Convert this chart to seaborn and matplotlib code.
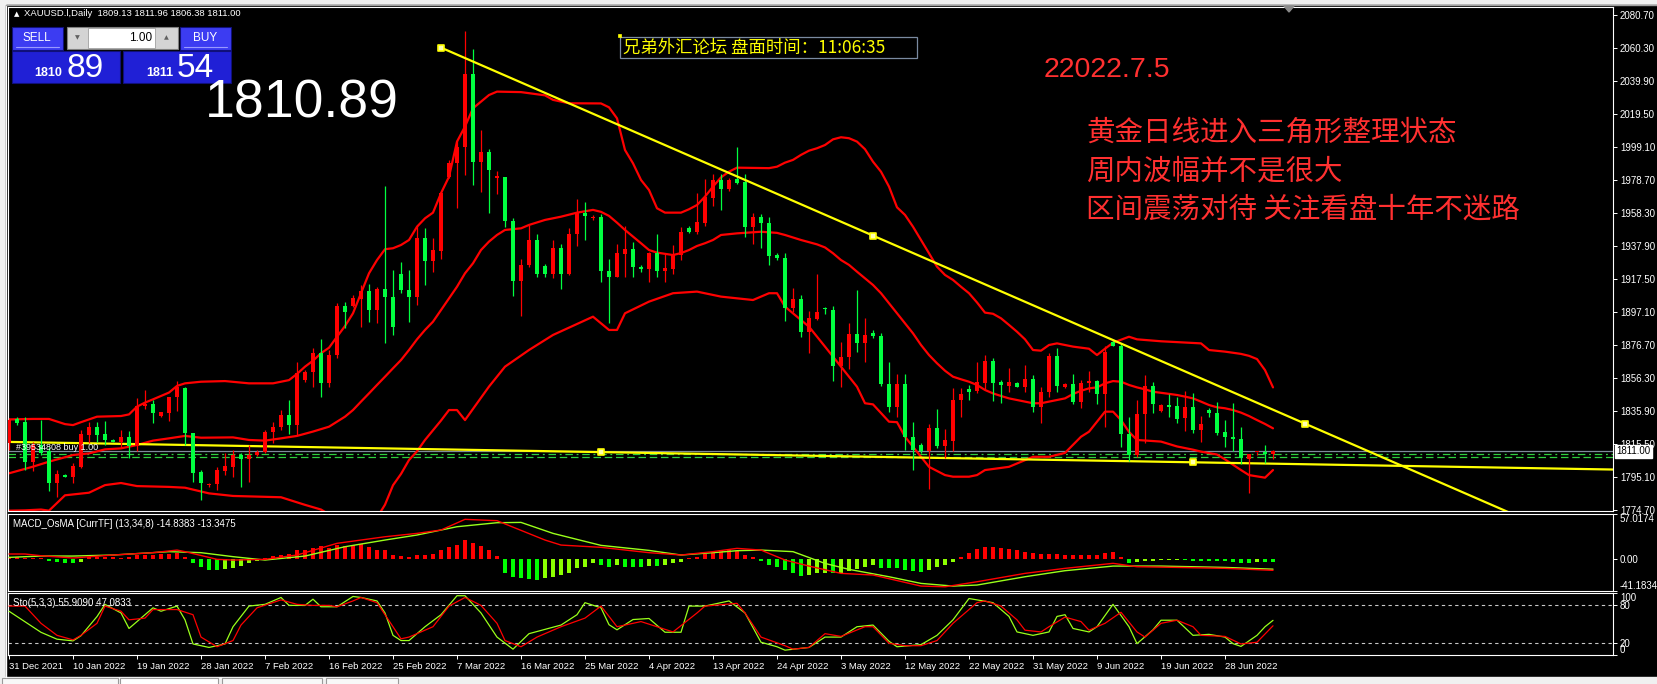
import matplotlib
matplotlib.use("Agg")
import matplotlib.pyplot as plt
import matplotlib.transforms as mtransforms
from matplotlib.patches import Rectangle, Polygon
import seaborn as sns

W, H = 1657, 684

# ---- daily candles, bar index 0 = 31 Dec 2021 ----
opens = [1816.1, 1831.0, 1828.9, 1804.6, 1814.9, 1811.4, 1791.6, 1796.0, 1795.3, 1801.5,
         1821.0, 1825.8, 1821.7, 1818.0, 1816.6, 1819.6, 1814.0, 1839.0, 1840.0, 1833.0,
         1834.8, 1844.5, 1850.0, 1822.5, 1798.0, 1790.0, 1790.6, 1799.0, 1801.0, 1808.7,
         1806.0, 1808.7, 1810.6, 1822.7, 1826.0, 1833.4, 1827.2, 1855.0, 1860.0, 1871.6,
         1853.4, 1870.5, 1900.8, 1901.0, 1905.0, 1910.0, 1898.3, 1911.0, 1906.6, 1920.4,
         1910.6, 1906.6, 1942.7, 1928.8, 1935.0, 1980.7, 1989.0, 1999.3, 2044.2, 1990.0,
         1995.8, 1980.0, 1980.7, 1953.5, 1916.4, 1926.0, 1941.6, 1925.6, 1920.6, 1936.5,
         1920.6, 1945.0, 1958.5, 1955.0, 1955.8, 1922.6, 1919.0, 1933.0, 1935.8, 1924.7,
         1923.5, 1933.8, 1922.7, 1923.5, 1932.3, 1948.8, 1946.7, 1952.0, 1967.5, 1978.7,
         1972.9, 1979.3, 1977.7, 1949.8, 1955.6, 1952.0, 1932.5, 1930.6, 1899.8, 1904.9,
         1884.9, 1893.0, 1899.8, 1898.5, 1863.7, 1869.1, 1883.5, 1878.1, 1884.0, 1882.3,
         1852.6, 1838.6, 1852.6, 1819.6, 1814.9, 1811.4, 1825.2, 1814.3, 1817.6, 1842.7,
         1849.3, 1848.0, 1853.4, 1866.8, 1854.0, 1851.5, 1853.0, 1850.9, 1855.5, 1838.2,
         1847.5, 1869.9, 1851.0, 1852.4, 1841.7, 1853.0, 1854.4, 1846.4, 1878.7, 1876.3,
         1821.5, 1808.7, 1834.0, 1851.3, 1836.0, 1839.5, 1838.8, 1831.7, 1838.2, 1824.2,
         1836.6, 1834.6, 1823.0, 1820.1, 1818.7, 1806.3, 1810.4, 1810.5, 1809.13]
highs = [1831.5, 1832.0, 1832.0, 1816.9, 1830.3, 1813.8, 1799.4, 1796.8, 1803.5, 1824.2,
         1829.3, 1829.0, 1829.6, 1818.6, 1824.0, 1823.6, 1843.7, 1848.9, 1843.0, 1835.5,
         1844.7, 1854.4, 1851.0, 1822.5, 1799.6, 1791.5, 1801.0, 1809.7, 1811.8, 1809.7,
         1814.9, 1812.0, 1824.2, 1829.3, 1836.5, 1842.4, 1866.4, 1861.0, 1874.7, 1880.2,
         1873.5, 1902.5, 1903.5, 1907.5, 1914.0, 1914.5, 1912.7, 1975.0, 1923.0, 1927.7,
         1923.0, 1950.9, 1948.9, 1942.7, 1971.5, 1991.0, 2003.0, 2070.8, 2059.5, 2009.6,
         1997.6, 1984.0, 1980.7, 1955.0, 1929.6, 1950.9, 1945.0, 1927.0, 1941.6, 1939.0,
         1948.8, 1966.8, 1965.0, 1957.0, 1957.5, 1929.6, 1939.0, 1950.3, 1940.5, 1926.0,
         1934.0, 1945.3, 1933.8, 1938.5, 1949.4, 1950.0, 1970.5, 1979.1, 1982.4, 1982.4,
         1980.0, 1999.3, 1982.4, 1958.5, 1957.6, 1956.0, 1933.5, 1933.8, 1911.7, 1907.5,
         1897.7, 1920.6, 1900.0, 1901.0, 1878.7, 1890.1, 1910.7, 1893.2, 1886.0, 1884.0,
         1866.4, 1858.5, 1858.7, 1829.0, 1816.0, 1827.9, 1836.9, 1825.0, 1849.9, 1849.9,
         1852.0, 1866.4, 1870.5, 1868.5, 1855.0, 1862.3, 1854.0, 1864.4, 1858.0, 1850.5,
         1871.6, 1874.6, 1853.0, 1858.8, 1855.0, 1860.6, 1855.0, 1876.3, 1879.5, 1877.7,
         1832.3, 1842.7, 1858.2, 1854.0, 1840.5, 1846.5, 1844.6, 1848.5, 1846.9, 1832.7,
         1837.5, 1841.7, 1830.3, 1841.0, 1825.8, 1809.5, 1810.7, 1815.0, 1811.96]
lows = [1812.0, 1827.5, 1799.4, 1799.0, 1809.0, 1786.6, 1782.9, 1795.0, 1791.2, 1800.5,
        1815.9, 1817.0, 1815.0, 1816.8, 1813.0, 1806.7, 1811.0, 1837.0, 1828.7, 1832.5,
        1830.0, 1836.0, 1815.0, 1792.2, 1780.9, 1789.0, 1787.0, 1796.4, 1795.0, 1789.1,
        1792.0, 1808.0, 1809.7, 1815.9, 1824.0, 1821.9, 1821.3, 1854.0, 1851.0, 1844.8,
        1850.9, 1868.5, 1887.0, 1900.0, 1888.0, 1891.0, 1890.0, 1878.1, 1883.0, 1909.0,
        1891.0, 1901.6, 1913.8, 1922.0, 1930.0, 1980.0, 1961.2, 1981.8, 1975.6, 1971.1,
        1958.5, 1970.0, 1949.8, 1907.0, 1894.6, 1925.0, 1918.5, 1919.0, 1918.0, 1911.1,
        1920.0, 1937.6, 1941.6, 1954.0, 1915.8, 1890.5, 1918.5, 1919.0, 1918.5, 1922.0,
        1915.8, 1918.5, 1915.5, 1920.5, 1929.2, 1946.0, 1945.6, 1950.0, 1962.6, 1960.2,
        1971.8, 1976.0, 1943.7, 1939.1, 1936.5, 1926.2, 1929.5, 1891.7, 1897.3, 1881.8,
        1871.6, 1892.0, 1896.0, 1854.6, 1850.5, 1861.6, 1872.6, 1866.4, 1881.0, 1851.4,
        1835.5, 1832.0, 1811.8, 1799.4, 1810.0, 1787.5, 1813.0, 1807.0, 1811.0, 1832.0,
        1842.7, 1847.0, 1849.3, 1842.3, 1841.0, 1847.9, 1850.5, 1847.5, 1835.5, 1828.7,
        1844.6, 1847.9, 1850.0, 1840.0, 1837.5, 1847.5, 1840.0, 1825.8, 1876.0, 1813.8,
        1805.2, 1807.6, 1815.9, 1834.4, 1835.0, 1832.3, 1828.7, 1823.7, 1822.5, 1817.0,
        1832.0, 1821.0, 1813.8, 1811.4, 1803.0, 1785.0, 1809.0, 1804.0, 1806.38]
closes = [1830.3, 1828.4, 1804.6, 1814.9, 1810.1, 1791.6, 1796.9, 1795.4, 1801.9, 1821.7,
          1825.8, 1821.0, 1818.0, 1817.0, 1819.6, 1814.5, 1839.0, 1840.0, 1834.8, 1835.0,
          1844.7, 1850.5, 1822.5, 1797.7, 1791.6, 1791.0, 1799.6, 1801.8, 1808.7, 1806.0,
          1808.7, 1810.6, 1822.7, 1826.1, 1833.4, 1827.2, 1859.2, 1860.0, 1871.6, 1853.4,
          1870.5, 1900.8, 1897.3, 1906.0, 1910.0, 1898.3, 1911.1, 1906.6, 1888.0, 1910.4,
          1906.6, 1942.7, 1928.8, 1935.4, 1970.5, 1989.0, 1999.3, 2044.2, 1990.0, 1995.8,
          1984.9, 1981.0, 1953.5, 1916.4, 1926.2, 1941.6, 1920.6, 1920.6, 1936.5, 1920.6,
          1945.3, 1958.5, 1956.5, 1956.0, 1922.6, 1919.0, 1933.4, 1935.8, 1924.7, 1923.5,
          1933.8, 1922.7, 1924.5, 1932.3, 1946.7, 1946.7, 1952.9, 1968.0, 1978.7, 1972.9,
          1978.9, 1976.7, 1949.8, 1955.6, 1952.0, 1931.7, 1930.6, 1899.8, 1904.9, 1884.9,
          1893.2, 1897.3, 1898.8, 1863.7, 1869.1, 1883.5, 1878.1, 1882.9, 1882.0, 1852.6,
          1838.6, 1852.6, 1819.6, 1811.8, 1811.4, 1825.2, 1814.3, 1818.0, 1842.7, 1846.4,
          1847.9, 1854.0, 1866.8, 1853.4, 1851.8, 1854.0, 1851.0, 1855.5, 1838.2, 1847.5,
          1869.9, 1851.3, 1852.4, 1841.7, 1853.0, 1854.4, 1846.4, 1872.2, 1876.3, 1821.5,
          1808.7, 1834.0, 1851.3, 1840.2, 1839.5, 1838.5, 1831.1, 1838.2, 1824.2, 1827.9,
          1834.6, 1822.2, 1820.0, 1818.7, 1806.7, 1809.3, 1810.6, 1809.3, 1811.00]

# ---- Bollinger bands ----
bb_up_x = [0, 3, 5, 7, 8, 9, 11, 14, 15, 16, 17, 18, 19, 20, 21, 22, 24, 27, 30, 33, 35, 36, 37, 38,
           39, 40, 41, 42, 43, 44, 45, 46, 47, 48, 49, 50, 51, 52, 53, 54, 55, 56, 57, 58, 59, 60,
           61, 64, 67, 68, 70, 74, 75, 76, 77, 78, 79, 80, 81, 82, 84, 85, 86, 87, 88, 89, 90, 91,
           95, 96, 97, 98, 99, 100, 101, 102, 103, 104, 105, 106, 107, 108, 109, 110, 111, 112,
           113, 114, 115, 116, 117, 118, 119, 120, 121, 122, 123, 124, 125, 126, 127, 128, 129,
           130, 131, 133, 135, 136, 137, 138, 140, 141, 144, 149, 150, 152, 154, 155, 156, 157, 158]
bb_up_y = [1830.7, 1831.0, 1831.0, 1827.8, 1827.2, 1829.0, 1832.4, 1832.8, 1833.8, 1838.6, 1841.1,
           1843.1, 1845.2, 1847.3, 1851.4, 1853.0, 1854.0, 1854.4, 1853.0, 1853.0, 1855.0, 1858.8,
           1863.3, 1867.0, 1871.6, 1875.0, 1881.8, 1888.4, 1896.3, 1908.7, 1921.0, 1929.2, 1935.9,
           1936.5, 1938.5, 1941.6, 1949.8, 1955.0, 1958.5, 1970.5, 1980.7, 2002.4, 2011.7, 2023.0,
           2027.1, 2031.2, 2033.3, 2033.0, 2031.0, 2028.2, 2026.1, 2026.0, 2023.6, 2016.8, 1997.2,
           1989.0, 1978.7, 1972.5, 1961.2, 1958.5, 1958.5, 1960.6, 1963.2, 1968.4, 1974.6, 1980.3,
           1983.8, 1986.3, 1986.0, 1986.9, 1989.4, 1991.1, 1994.2, 1996.8, 1998.3, 2000.3, 2003.8,
           2005.1, 2004.5, 2002.4, 1997.7, 1990.0, 1983.8, 1974.6, 1961.8, 1957.1, 1949.8, 1941.6,
           1933.4, 1925.1, 1920.0, 1916.9, 1912.7, 1908.7, 1903.0, 1896.7, 1896.0, 1893.2, 1889.1,
           1884.9, 1880.2, 1873.6, 1873.2, 1876.7, 1877.7, 1875.7, 1874.4, 1870.5, 1874.4, 1878.1,
           1881.8, 1880.2, 1879.0, 1877.7, 1873.6, 1872.6, 1871.2, 1870.0, 1868.0, 1861.2, 1850.5]
bb_mid_x = [0, 3, 5, 8, 10, 12, 14, 16, 18, 20, 22, 24, 28, 30, 32, 34, 36, 38, 40, 41, 42, 43, 44,
            45, 46, 47, 48, 49, 50, 51, 52, 53, 54, 55, 56, 57, 58, 59, 60, 61, 62, 64, 65, 67, 69,
            71, 73, 74, 75, 76, 77, 78, 79, 80, 81, 83, 84, 85, 86, 87, 88, 89, 91, 94, 96, 97, 99,
            101, 102, 103, 104, 105, 106, 107, 108, 109, 110, 111, 112, 113, 114, 115, 116, 117,
            118, 119, 120, 121, 122, 123, 124, 125, 126, 127, 128, 129, 130, 131, 132, 133, 134,
            135, 136, 137, 138, 139, 140, 141, 142, 143, 145, 146, 147, 148, 149, 150, 151, 152,
            153, 154, 155, 156, 157, 158]
bb_mid_y = [1797.4, 1801.5, 1804.6, 1808.7, 1809.7, 1812.2, 1812.8, 1814.9, 1817.6, 1819.0, 1820.5,
            1819.4, 1819.6, 1818.0, 1817.6, 1819.0, 1820.5, 1823.2, 1826.2, 1829.3, 1832.4, 1836.5,
            1841.7, 1846.8, 1852.0, 1857.1, 1862.3, 1867.4, 1873.6, 1880.2, 1886.0, 1891.1, 1898.3,
            1905.5, 1912.7, 1921.0, 1927.2, 1935.4, 1940.6, 1944.7, 1947.8, 1948.8, 1950.9, 1954.0,
            1956.0, 1958.5, 1960.2, 1959.0, 1956.5, 1952.3, 1947.8, 1943.7, 1939.6, 1935.4, 1933.8,
            1932.3, 1933.5, 1935.4, 1937.9, 1939.6, 1941.6, 1944.7, 1945.7, 1946.7, 1946.0, 1944.7,
            1941.6, 1938.9, 1937.0, 1933.4, 1929.2, 1926.2, 1922.0, 1917.9, 1913.8, 1908.7, 1902.5,
            1896.3, 1890.1, 1883.9, 1876.7, 1870.5, 1865.4, 1860.8, 1857.1, 1855.5, 1854.0, 1852.0,
            1848.9, 1846.8, 1845.2, 1843.7, 1842.7, 1841.7, 1840.7, 1840.7, 1841.7, 1842.7, 1843.7,
            1846.4, 1848.4, 1849.9, 1850.5, 1853.0, 1854.4, 1854.0, 1852.0, 1850.5, 1849.3, 1847.8,
            1846.5, 1845.8, 1844.8, 1843.7, 1841.7, 1839.6, 1838.2, 1837.6, 1836.5, 1834.9, 1832.8,
            1830.3, 1827.9, 1825.2]
bb_lo_x = [0, 2, 4, 5, 7, 10, 12, 14, 16, 20, 22, 25, 28, 34, 37, 39, 40, 42, 44, 46, 47, 48, 49,
           50, 51, 52, 54, 55, 56, 57, 60, 62, 65, 68, 73, 75, 76, 77, 80, 83, 86, 89, 93, 95, 96,
           97, 100, 102, 104, 106, 107, 108, 110, 111, 112, 114, 115, 117, 118, 120, 121, 122, 125,
           128, 130, 132, 133, 134, 135, 137, 138, 139, 140, 141, 144, 146, 148, 149, 151, 152, 154,
           155, 157, 158]
bb_lo_y = [1774.3, 1774.5, 1775.0, 1774.3, 1783.8, 1785.4, 1790.1, 1791.4, 1789.5, 1789.0, 1788.5,
           1785.0, 1783.4, 1782.6, 1777.9, 1775.0, 1772.0, 1768.0, 1766.0, 1770.0, 1778.0, 1790.0,
           1797.0, 1805.6, 1811.0, 1818.0, 1830.0, 1836.5, 1836.5, 1830.3, 1851.0, 1863.3, 1873.6,
           1882.9, 1894.2, 1886.0, 1886.0, 1896.3, 1903.5, 1908.7, 1909.7, 1906.6, 1904.5, 1908.7,
           1908.7, 1900.4, 1888.0, 1875.7, 1863.3, 1850.9, 1840.7, 1840.0, 1829.3, 1829.0, 1820.0,
           1807.6, 1801.4, 1796.3, 1795.3, 1795.3, 1796.3, 1799.4, 1801.4, 1807.6, 1807.6, 1810.0,
           1815.0, 1820.0, 1823.1, 1835.5, 1835.5, 1830.3, 1823.0, 1818.0, 1817.0, 1814.0, 1812.0,
           1810.8, 1809.0, 1806.0, 1799.4, 1796.3, 1794.7, 1799.4]

# ---- MACD_OsMA (13,34,8) ----
osma = [2.6, 2.0, 1.5, 0.8, 0.3, -2.5, -4.7, -6.0, -6.0, -3.8,
        1.7, 1.7, 1.7, 1.7, 1.3, 2.6, 4.3, 5.1, 5.1, 6.0,
        6.0, 6.8, 1.7, -5.1, -11.1, -14.5, -14.5, -13.6, -12.3, -9.4,
        -6.0, -2.5, 0.9, 3.0, 4.7, 6.4, 10.6, 11.5, 13.6, 15.7,
        13.6, 17.9, 16.6, 17.9, 19.1, 14.5, 11.5, 10.6, 5.1, 3.8,
        2.1, 5.1, 5.1, 6.4, 11.5, 14.5, 17.9, 24.3, 20.0, 15.7,
        10.6, 3.8, -17.9, -23.0, -25.0, -26.4, -27.2, -25.0, -23.0, -20.8,
        -17.9, -12.3, -11.1, -5.1, -8.0, -11.0, -8.0, -11.0, -11.0, -11.0,
        -9.4, -9.4, -8.0, -6.0, -3.8, 0.3, 2.6, 6.0, 9.0, 10.2,
        11.0, 10.2, 4.7, 1.7, -2.5, -8.0, -11.0, -14.5, -18.7, -22.1,
        -20.8, -18.7, -17.9, -18.7, -17.9, -15.3, -13.6, -11.1, -8.0, -12.3,
        -12.3, -12.3, -14.5, -15.3, -16.6, -14.5, -11.1, -8.0, -3.8, 2.6,
        7.7, 11.9, 14.5, 15.3, 13.2, 12.3, 11.0, 9.0, 6.8, 6.0,
        6.0, 6.0, 4.7, 4.7, 4.7, 4.7, 4.7, 6.8, 9.0, 1.7,
        -5.1, -3.8, -3.0, -2.5, -2.1, -1.7, -1.3, -2.1, -2.5, -2.5,
        -2.5, -2.5, -3.4, -3.8, -5.1, -5.1, -3.8, -3.8, -3.8]
macd_x = [0, 2, 4, 8, 13, 18, 21, 22, 26, 28, 32, 36, 41, 47, 51, 54, 57, 61, 67, 69, 74, 80,
          84, 88, 91, 94, 97, 100, 104, 108, 114, 117, 121, 127, 132, 138, 141, 146, 152, 158]
macd_y = [6.0, 6.0, 3.8, 0.9, 4.7, 7.7, 11.0, 9.0, -0.8, -1.7, -0.8, 4.7, 19.6, 28.0, 32.3, 36.6,
          50.2, 48.5, 23.8, 17.4, 14.5, 7.7, 4.7, 9.0, 13.2, 11.0, -1.7, -9.4, -18.7, -20.8,
          -34.9, -35.8, -29.4, -18.7, -12.3, -5.9, -10.2, -11.1, -12.3, -14.84]
signal_x = [0, 4, 8, 13, 20, 24, 28, 32, 37, 42, 47, 51, 56, 61, 64, 68, 74, 80, 84, 88, 91, 94,
            98, 102, 105, 110, 114, 118, 121, 127, 132, 138, 144, 152, 158]
signal_y = [1.7, 3.4, 3.4, 4.7, 9.0, 7.7, 2.6, -1.7, 3.4, 15.3, 23.8, 30.2, 40.8, 45.9, 46.3, 32.3,
            17.0, 10.6, 4.7, 7.7, 10.2, 11.0, 9.0, -6.0, -13.6, -23.0, -31.5, -34.9, -33.6, -23.0,
            -15.3, -9.4, -9.4, -11.1, -13.35]

# ---- Stochastic (5,3,3) ----
sto_k_x = [0, 4, 6, 8, 9, 11, 12, 14, 15, 17, 18, 19, 21, 22, 23, 25, 27, 28, 30, 32, 34, 35, 37,
           38, 39, 41, 43, 44, 46, 47, 48, 49, 50, 52, 54, 56, 57, 59, 61, 63, 65, 69, 71, 72, 74,
           75, 76, 78, 80, 82, 84, 85, 87, 90, 92, 94, 96, 97, 100, 102, 104, 106, 108, 110, 111,
           114, 116, 118, 120, 121, 123, 125, 126, 128, 130, 131, 132, 133, 135, 136, 138, 140,
           141, 143, 144, 146, 148, 150, 152, 153, 154, 156, 157, 158]
sto_k_y = [70.6, 36.6, 25.5, 22.8, 31.1, 62.0, 81.7, 67.8, 42.8, 65.0, 76.1, 70.6, 78.9, 56.7, 17.8,
           12.2, 17.8, 45.6, 78.9, 81.7, 92.8, 80.0, 80.0, 90.0, 77.8, 77.8, 94.4, 92.8, 87.2, 67.8,
           31.7, 23.3, 23.3, 45.6, 65.0, 95.6, 95.6, 67.8, 28.9, 9.4, 34.4, 48.3, 65.0, 84.4, 76.1,
           48.9, 40.6, 57.2, 58.9, 36.7, 36.7, 78.9, 78.9, 87.2, 67.8, 20.6, 13.3, 7.8, 12.2, 28.9,
           28.9, 45.6, 48.3, 22.2, 13.3, 16.7, 31.7, 56.7, 91.1, 88.9, 84.4, 62.2, 37.2, 31.7, 37.2,
           62.2, 65.0, 42.8, 37.2, 45.6, 81.7, 45.6, 18.3, 40.6, 56.1, 56.1, 31.7, 33.3, 28.9, 18.3,
           13.9, 31.7, 45.6, 55.9]
sto_d_x = [0, 2, 4, 6, 8, 9, 11, 12, 14, 15, 17, 18, 21, 23, 24, 26, 28, 29, 31, 34, 36, 38, 40,
           41, 43, 44, 46, 48, 49, 50, 53, 55, 57, 59, 61, 62, 64, 66, 69, 72, 74, 76, 78, 79, 81,
           83, 86, 87, 91, 92, 94, 97, 98, 100, 102, 104, 107, 108, 110, 112, 114, 116, 118, 121,
           122, 124, 126, 127, 129, 130, 132, 134, 135, 137, 139, 141, 142, 144, 146, 148, 149,
           152, 154, 156, 158]
sto_d_y = [78.9, 78.9, 51.1, 31.7, 24.4, 31.7, 51.1, 78.9, 70.6, 56.7, 59.5, 73.3, 73.3, 65.0, 28.9,
           13.3, 23.3, 48.3, 76.1, 88.9, 81.7, 80.0, 80.0, 77.8, 87.2, 92.8, 84.4, 45.6, 26.1, 28.9,
           45.6, 78.9, 92.8, 80.0, 51.1, 23.3, 13.3, 28.9, 45.6, 59.5, 78.9, 45.6, 51.1, 53.9, 45.6,
           37.2, 67.8, 78.9, 83.3, 67.8, 28.9, 15.0, 9.4, 12.2, 34.4, 30.0, 45.6, 45.6, 18.9, 15.0,
           15.0, 23.3, 51.1, 84.4, 87.2, 78.9, 56.7, 40.0, 37.2, 45.6, 61.1, 53.9, 40.0, 51.1, 68.9,
           37.2, 28.9, 51.1, 56.1, 45.6, 31.7, 30.0, 17.8, 20.6, 47.1]

# ---- drawn objects ----
trend_x = [54, 108, 162]
trend_y = [2060.5, 1944.3, 1828.1]
support_x = [0, 74, 148]
support_y = [1816.8, 1810.5, 1804.2]

price_ticks = [2080.70, 2060.30, 2039.90, 2019.50, 1999.10, 1978.70, 1958.30, 1937.90,
               1917.50, 1897.10, 1876.70, 1856.30, 1835.90, 1815.50, 1795.10, 1774.70]
date_ticks = list(range(0, 153, 8))
date_labels = ["31 Dec 2021", "10 Jan 2022", "19 Jan 2022", "28 Jan 2022", "7 Feb 2022",
               "16 Feb 2022", "25 Feb 2022", "7 Mar 2022", "16 Mar 2022", "25 Mar 2022",
               "4 Apr 2022", "13 Apr 2022", "24 Apr 2022", "3 May 2022", "12 May 2022",
               "22 May 2022", "31 May 2022", "9 Jun 2022", "19 Jun 2022", "28 Jun 2022"]

note_lines = ["黄金日线进入三角形整理状态", "周内波幅并不是很大", "区间震荡对待 关注看盘十年不迷路"]

BULL = "#ff0000"
BEAR = "#00ff40"

sns.set_theme(style="dark", rc={"axes.facecolor": "black", "figure.facecolor": "#f0f0f0"})
plt.rcParams["font.family"] = ["Liberation Sans", "DejaVu Sans"]
CJK = ["Noto Sans CJK SC", "DejaVu Sans"]


def fbox(x0, y0, x1, y1):
    return [x0 / W, 1 - y1 / H, (x1 - x0) / W, (y1 - y0) / H]


fig = plt.figure(figsize=(W / 100, H / 100), dpi=100, facecolor="#f0f0f0")

bg = fig.add_axes([0, 0, 1, 1])
bg.set_xlim(0, W)
bg.set_ylim(H, 0)
bg.axis("off")
bg.add_patch(Rectangle((6, 5), W - 6, 672, color="black"))
bg.plot([6, 6], [5, 677], color="white", lw=1)
bg.plot([6, W], [5, 5], color="#a0a0a0", lw=1)
bg.add_patch(Rectangle((0, 677), W, 7, color="#f0f0f0"))
for tx0, tx1, fc in [(2, 118, "#f8f8f8"), (120, 218, "white"), (222, 322, "#f8f8f8"), (326, 398, "#f8f8f8")]:
    bg.add_patch(Rectangle((tx0, 678), tx1 - tx0, 8, facecolor=fc, edgecolor="#9a9a9a", lw=0.8))

ax = fig.add_axes(fbox(8, 7, 1613, 511))
am = fig.add_axes(fbox(8, 514, 1613, 591))
ast = fig.add_axes(fbox(8, 593, 1613, 655))

for a in (ax, am, ast):
    a.set_facecolor("black")
    a.grid(False)
    a.set_xlim(-0.125, 200.5)
    for s in a.spines.values():
        s.set_color("white")
        s.set_linewidth(0.8)
    a.yaxis.tick_right()
    a.tick_params(axis="y", colors="white", labelcolor="white", labelsize=7, length=3,
                  width=0.7, pad=2, left=False, right=True)

# ---- main price panel ----
ax.set_ylim(1774.1, 2085.6)
ax.set_xticks([])
ax.set_yticks(price_ticks)
ax.set_yticklabels([f"{v:.2f}" for v in price_ticks])

sns.lineplot(x=bb_up_x, y=bb_up_y, ax=ax, color="red", lw=1.6, zorder=2)
sns.lineplot(x=bb_mid_x, y=bb_mid_y, ax=ax, color="red", lw=1.6, zorder=2)
sns.lineplot(x=bb_lo_x, y=bb_lo_y, ax=ax, color="red", lw=1.6, zorder=2)

# order / level lines
ax.axhline(1811.0, color="#7f8c9c", lw=0.9, zorder=1)
ax.axhline(1809.6, color="#2fcf3f", lw=0.9, ls=(0, (6, 3, 1.5, 3)), zorder=1)
ax.axhline(1807.4, color="#2fcf3f", lw=0.9, ls=(0, (6, 3)), zorder=1)

xs = list(range(len(opens)))
body_lo = [min(o, c) for o, c in zip(opens, closes)]
body_h = [max(abs(c - o), 0.7) for o, c in zip(opens, closes)]
cols = [BULL if c >= o else BEAR for o, c in zip(opens, closes)]
ax.vlines(xs, lows, highs, colors=cols, lw=0.9, zorder=3)
ax.bar(xs, body_h, bottom=body_lo, width=0.62, color=cols, linewidth=0, zorder=4)

# trend line (ray to the right) and support line
x_end = 200.5
slope = (trend_y[-1] - trend_y[0]) / (trend_x[-1] - trend_x[0])
ax.plot([trend_x[0], x_end], [trend_y[0], trend_y[0] + slope * (x_end - trend_x[0])],
        color="yellow", lw=1.6, zorder=5)
ax.scatter(trend_x, trend_y, marker="s", s=14, facecolor="#ffffb0", edgecolor="yellow",
           lw=1.2, zorder=6)
slope2 = (support_y[-1] - support_y[0]) / (support_x[-1] - support_x[0])
ax.plot([support_x[0], x_end], [support_y[0], support_y[0] + slope2 * (x_end - support_x[0])],
        color="yellow", lw=1.6, zorder=2.5)
ax.scatter(support_x[1:], support_y[1:], marker="s", s=14, facecolor="#ffffb0",
           edgecolor="yellow", lw=1.2, zorder=6)

# current price label
off = mtransforms.offset_copy(mtransforms.blended_transform_factory(ax.transAxes, ax.transData),
                              fig=fig, x=3, y=0, units="dots")
ax.text(1.0, 1811.0, "1811.00", transform=off, ha="left", va="center", fontsize=7,
        color="black", zorder=10, clip_on=False,
        bbox=dict(boxstyle="square,pad=0.15", facecolor="white", edgecolor="white"))

# ---- MACD panel ----
am.set_ylim(-41.1834, 57.0174)
am.set_xticks([])
am.set_yticks([57.0174, 0.0, -41.1834])
am.set_yticklabels(["57.0174", "0.00", "-41.1834"])
lbls = am.get_yticklabels()
lbls[0].set_va("top")
lbls[2].set_va("bottom")
hist_cols = []
for i, v in enumerate(osma):
    prev = osma[i - 1] if i else v
    if v >= 0:
        hist_cols.append("#ff0000")
    else:
        hist_cols.append("#00ff00" if v <= prev else "#8cff00")
am.bar(xs, osma, width=0.45, color=hist_cols, linewidth=0, zorder=2)
sns.lineplot(x=signal_x, y=signal_y, ax=am, color="#9aff1a", lw=1.0, zorder=3)
sns.lineplot(x=macd_x, y=macd_y, ax=am, color="#ff0000", lw=1.0, zorder=3)

# ---- Stochastic panel ----
ast.set_ylim(0, 100)
ast.set_yticks([100, 80, 20, 0])
ast.set_yticklabels(["100", "80", "20", "0"])
sl = ast.get_yticklabels()
sl[0].set_va("top")
sl[3].set_va("bottom")
for lv in (80, 20):
    ast.axhline(lv, color="#c8c8c8", lw=0.8, ls=(0, (3, 3)), zorder=1)
sns.lineplot(x=sto_k_x, y=sto_k_y, ax=ast, color="#9aff1a", lw=0.9, zorder=3)
sns.lineplot(x=sto_d_x, y=sto_d_y, ax=ast, color="#ff0000", lw=0.9, zorder=3)
ast.set_xticks(date_ticks)
ast.set_xticklabels(date_labels)
ast.tick_params(axis="x", colors="white", labelcolor="white", labelsize=6.8, length=3,
                width=0.7, pad=2, bottom=True)
for t in ast.get_xticklabels():
    t.set_ha("left")
for a in (ax, am, ast):
    a.set_xlabel("")
    a.set_ylabel("")

# ---- overlay texts and trading panel (pixel coordinates) ----
ov = fig.add_axes([0, 0, 1, 1], zorder=10)
ov.set_xlim(0, W)
ov.set_ylim(H, 0)
ov.axis("off")
ov.patch.set_alpha(0)

ov.text(14, 14, "▲", color="white", fontsize=5, va="center", family=["DejaVu Sans"])
ov.text(24, 14, "XAUUSD.l,Daily  1809.13 1811.96 1806.38 1811.00", color="white",
        fontsize=6.8, va="center")
ov.text(13, 524, "MACD_OsMA [CurrTF] (13,34,8) -14.8383 -13.3475", color="white",
        fontsize=7, va="center")
ov.text(13, 603, "Sto(5,3,3) 55.9090 47.0833", color="white", fontsize=7, va="center")
ov.text(16, 447, "#39534808 buy 1.00", color="white", fontsize=6.5, va="center")

# one-click trading panel
for x0 in (12, 180):
    ov.add_patch(Rectangle((x0, 27), 51, 23, facecolor="#3c3cf2", edgecolor="#10107a", lw=0.8))
    ov.plot([x0 + 4, x0 + 47], [47, 47], color="#9a9aff", lw=0.8)
for x0 in (12, 123):
    ov.add_patch(Rectangle((x0, 51), 108, 32, facecolor="#2020d6", edgecolor="#10107a", lw=0.8))
ov.text(37, 38, "SELL", color="white", fontsize=8.5, ha="center", va="center")
ov.text(205, 38, "BUY", color="white", fontsize=8.5, ha="center", va="center")
ov.add_patch(Rectangle((67, 27), 111, 22, facecolor="#d4d4d4", edgecolor="#808080", lw=0.8))
ov.add_patch(Rectangle((88, 28), 67, 20, facecolor="white", edgecolor="#a0a0a0", lw=0.6))
ov.text(77, 38, "▼", color="#606060", fontsize=4.5, ha="center", va="center", family=["DejaVu Sans"])
ov.text(166, 38, "▲", color="#606060", fontsize=4.5, ha="center", va="center", family=["DejaVu Sans"])
ov.text(152, 38, "1.00", color="black", fontsize=8.5, ha="right", va="center")
ov.text(62, 73, "1810", color="white", fontsize=9, fontweight="bold", ha="right", va="center")
ov.text(66, 77, "89", color="white", fontsize=24, ha="left", va="baseline")
ov.text(173, 73, "1811", color="white", fontsize=9, fontweight="bold", ha="right", va="center")
ov.text(177, 77, "54", color="white", fontsize=24, ha="left", va="baseline")

ov.text(205, 118, "1810.89", color="white", fontsize=38.5, ha="left", va="baseline")

ov.add_patch(Rectangle((620, 37), 297, 21, facecolor="black", edgecolor="#7a8aa0", lw=0.9))
ov.add_patch(Rectangle((618, 34), 3, 3, facecolor="yellow", edgecolor="yellow", lw=0.5))
ov.text(623, 47.5, "兄弟外汇论坛 盘面时间：11:06:35", color="yellow", fontsize=12.5,
        ha="left", va="center", family=CJK)

ov.text(1044, 70, "22022.7.5", color="#ff3030", fontsize=20.5, ha="left", va="center")
for k, line in enumerate(note_lines):
    ov.text(1086, 133 + k * 38.5, line, color="#ff3030", fontsize=20.5, ha="left",
            va="center", family=CJK)

# chart shift marker
ov.add_patch(Polygon([[1284, 6], [1294, 6], [1289, 12]], closed=True, color="#8a8a8a"))

fig.savefig("out.png", dpi=100, facecolor=fig.get_facecolor())
